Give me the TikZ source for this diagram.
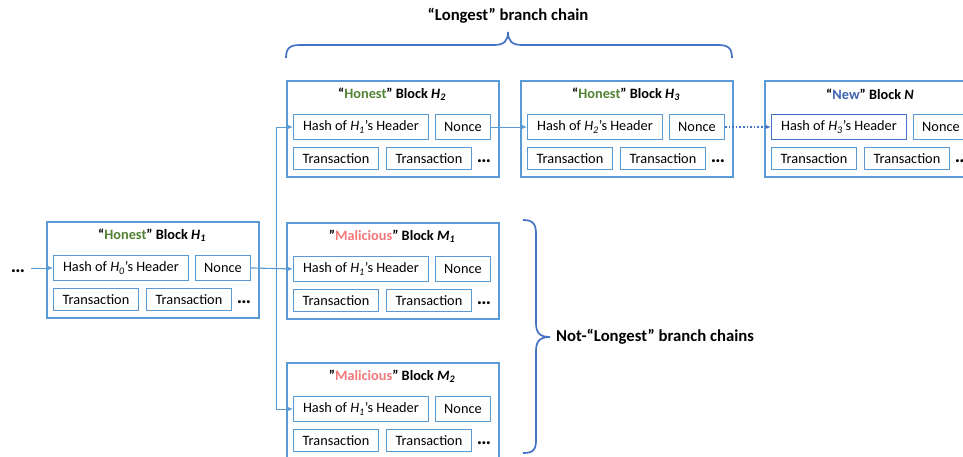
\documentclass[tikz,border=0pt]{standalone}
\usepackage{fontspec}
\setmainfont{Carlito}
\usetikzlibrary{arrows.meta}
\definecolor{boxblue}{HTML}{5B9BD5}
\definecolor{darkblue}{HTML}{4472C4}
\definecolor{honestgreen}{HTML}{548235}
\definecolor{malred}{HTML}{F4777A}
\definecolor{newblue}{HTML}{3E64B0}
\tikzset{
  outbox/.style={draw=boxblue, line width=1.7pt, minimum width=212, minimum height=96, anchor=north west, inner sep=0pt},
  inbox/.style={draw=boxblue, line width=0.9pt, anchor=north west, inner sep=0pt, font=\fontsize{14.3}{16}\selectfont},
  hashbox/.style={inbox, minimum width=135, minimum height=25},
  noncebox/.style={inbox, minimum width=55, minimum height=25},
  txbox/.style={inbox, minimum width=85, minimum height=22},
  btitle/.style={font=\bfseries\fontsize{14.3}{16}\selectfont, inner sep=0pt},
  dotsnode/.style={font=\bfseries\fontsize{20}{20}\selectfont, inner sep=0pt},
  link/.style={draw=boxblue, line width=0.8pt, -{Latex[length=5pt,width=4pt]}},
  bracestyle/.style={draw=darkblue, line width=1.7pt},
  bigtext/.style={font=\bfseries\fontsize{16.7}{19}\selectfont, inner sep=0pt}
}
\newcommand\mkblock[6]{%
  \node[outbox] (#1) at (#2,#3) {};
  \node[btitle] (#1-ti) at (#2+106,#3+14) {#4};
  \node[hashbox,#6] (#1-h) at (#2+7,#3+34) {Hash of \textit{H\textsubscript{#5}}’s Header};
  \node[noncebox] (#1-n) at (#2+149,#3+34) {Nonce};
  \node[txbox] (#1-t1) at (#2+7,#3+67) {Transaction};
  \node[txbox] (#1-t2) at (#2+100,#3+67) {Transaction};
  \node[dotsnode, anchor=base] (#1-d) at (#2+198,#3+82) {…};
}
\begin{document}
\begin{tikzpicture}[x=1pt,y=-1pt]
\useasboundingbox (0,0) rectangle (963,456);
\clip (0,0) rectangle (963,456);
\fill[white] (0,0) rectangle (963,456);

\mkblock{h1}{46}{221}{“\textcolor{honestgreen}{Honest}” Block \textit{H\textsubscript{1}}}{0}{}
\mkblock{h2}{286}{80}{“\textcolor{honestgreen}{Honest}” Block \textit{H\textsubscript{2}}}{1}{}
\mkblock{h3}{520}{80}{“\textcolor{honestgreen}{Honest}” Block \textit{H\textsubscript{3}}}{2}{}
\mkblock{nb}{764}{80}{“\textcolor{newblue}{New}” Block \textit{N}}{3}{draw=darkblue}
\mkblock{m1}{286}{222}{”\textcolor{malred}{Malicious}” Block \textit{M\textsubscript{1}}}{1}{}
\mkblock{m2}{286}{362}{”\textcolor{malred}{Malicious}” Block \textit{M\textsubscript{2}}}{1}{}

% left dots and incoming arrow
\node[dotsnode, anchor=base] (ld) at (18,272) {…};
\draw[link] ([xshift=6pt]ld.east |- h1-h.west) -- (h1-h.west);

% branching from H1
\coordinate (j) at (276,267.5);
\draw[link, line width=1.1pt] (h1-n.east) -- (m1-h.west);
\draw[link] (j) |- (h2-h.west);
\draw[link] (j) |- (m2-h.west);

% chain
\draw[link] (h2-n.east) -- (h3-h.west);
\draw[draw=darkblue, line width=1.6pt, dotted, -{Latex[length=5pt,width=4pt]}] (h3-n.east) -- (nb-h.west);

% top brace
\draw[bracestyle] (286,58) .. controls (286,48) and (290,45) .. (300,45) -- (494,45)
  .. controls (504,45) and (508,41) .. (508,32)
  .. controls (508,41) and (512,45) .. (522,45) -- (718,45)
  .. controls (728,45) and (732,48) .. (732,58);
\node[bigtext] (lt) at (508,16) {“Longest” branch chain};

% right brace
\draw[bracestyle] (523,220) .. controls (533,220) and (536,224) .. (536,234) -- (536,323)
  .. controls (536,333) and (540,337) .. (550,337)
  .. controls (540,337) and (536,341) .. (536,351) -- (536,440)
  .. controls (536,450) and (533,453) .. (523,453);
\node[bigtext, anchor=west] (nl) at (556,337) {Not-“Longest” branch chains};
\end{tikzpicture}
\end{document}
